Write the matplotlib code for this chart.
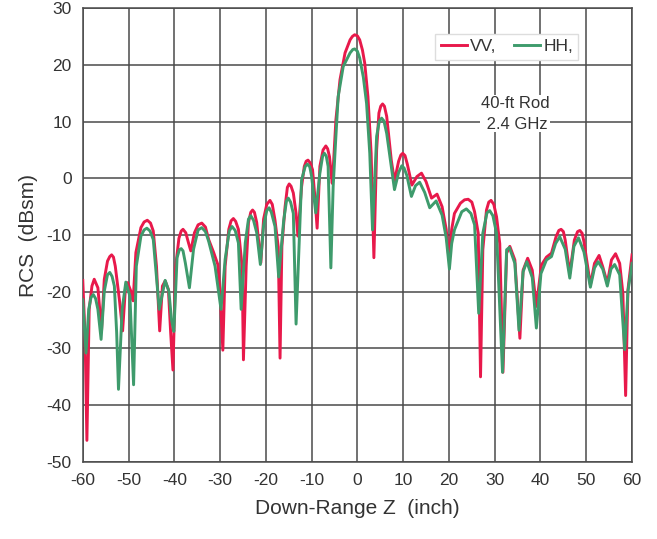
import matplotlib
matplotlib.use("Agg")
import matplotlib.pyplot as plt

plt.rcParams['font.family'] = ['Liberation Sans', 'DejaVu Sans']
plt.rcParams['axes.unicode_minus'] = False

# VV polarisation (Down-Range Z in inch, RCS in dBsm)
vv_z = [-60.0, -59.5, -59.1, -58.6, -58.0, -57.5, -56.7, -55.9, -55.3, -54.6,
        -54.1, -53.7, -53.3, -52.9, -52.0, -51.3, -50.7, -50.2, -49.5, -49.0,
        -48.4, -47.3, -46.6, -45.9, -45.2, -44.6, -43.9, -43.2, -42.6, -42.0,
        -41.3, -40.8, -40.3, -39.7, -39.0, -38.5, -38.1, -37.5, -36.9, -36.4,
        -35.6, -34.8, -34.0, -33.2, -32.5, -31.4, -30.5, -30.0, -29.4, -28.9,
        -28.1, -27.6, -27.1, -26.6, -26.0, -25.2, -24.9, -24.3, -23.8, -23.3,
        -22.9, -22.5, -22.0, -21.1, -20.5, -19.8, -19.1, -18.6, -18.0, -17.3,
        -16.9, -16.5, -15.8, -15.3, -14.9, -14.5, -14.0, -13.4, -13.0, -12.2,
        -11.6, -11.2, -10.8, -10.3, -9.8, -9.3, -8.8, -8.2, -7.5, -6.9,
        -6.5, -6.1, -5.5, -5.3, -4.7, -3.8, -2.7, -1.6, -1.1, -0.6,
        0.0, 0.5, 1.1, 1.6, 2.3, 3.0, 3.6, 4.2, 4.7, 5.1,
        5.5, 5.9, 6.4, 7.4, 8.1, 9.0, 9.5, 9.9, 10.4, 10.9,
        11.9, 13.0, 14.0, 15.0, 16.2, 17.4, 18.5, 19.4, 20.0, 20.6,
        21.2, 22.5, 23.4, 24.2, 25.0, 25.6, 26.4, 26.9, 27.4, 28.2,
        28.7, 29.2, 29.8, 30.4, 31.1, 31.8, 32.6, 33.3, 34.4, 35.5,
        36.2, 37.2, 38.2, 39.1, 40.2, 41.3, 42.4, 43.4, 44.0, 44.5,
        45.0, 45.4, 46.4, 47.4, 48.1, 48.6, 49.1, 49.5, 50.9, 51.8,
        52.8, 53.6, 54.6, 55.5, 56.4, 57.3, 58.0, 58.6, 59.1, 60.0]
vv_rcs = [-18.0, -28.0, -46.2, -23.1, -19.0, -17.8, -19.3, -26.9, -17.8, -14.6,
          -13.8, -13.5, -13.9, -15.5, -21.4, -26.9, -19.6, -18.4, -19.9, -21.6,
          -13.1, -8.7, -7.7, -7.4, -7.9, -9.3, -15.5, -26.9, -19.0, -18.1,
          -19.6, -27.2, -33.8, -15.5, -10.6, -9.3, -9.0, -9.6, -11.4, -12.8,
          -9.6, -8.2, -7.9, -8.6, -10.8, -13.1, -15.2, -20.2, -30.3, -15.5,
          -9.0, -7.5, -7.1, -7.6, -9.0, -15.5, -32.0, -15.5, -7.8, -6.0,
          -5.6, -6.0, -7.8, -14.9, -7.2, -4.6, -3.9, -4.6, -7.4, -12.1,
          -31.7, -12.0, -5.0, -1.6, -1.0, -1.4, -2.6, -6.2, -10.2, -1.5,
          2.1, 3.0, 3.2, 2.7, 1.5, -3.2, -8.8, 2.1, 5.0, 5.7,
          5.2, 3.8, -0.9, 1.5, 10.3, 17.4, 22.1, 24.4, 25.0, 25.3,
          25.1, 24.4, 22.6, 20.3, 14.4, 4.4, -14.0, 5.0, 11.5, 12.7,
          13.1, 12.7, 10.9, 3.2, -0.5, 3.0, 4.1, 4.4, 4.0, 2.5,
          -1.2, 0.3, 0.9, -0.6, -3.5, -2.8, -5.0, -9.0, -14.3, -9.0,
          -6.2, -4.4, -3.8, -3.7, -4.2, -5.9, -9.7, -35.0, -12.6, -5.6,
          -4.2, -3.9, -4.6, -6.8, -11.5, -34.2, -13.2, -12.0, -14.4, -28.2,
          -16.2, -14.1, -16.2, -22.6, -15.3, -13.9, -13.2, -10.3, -9.2, -9.0,
          -9.4, -10.9, -16.8, -10.9, -9.4, -9.2, -9.7, -11.2, -18.8, -15.0,
          -13.6, -15.6, -18.5, -14.4, -13.3, -15.0, -20.3, -38.3, -19.7, -13.5]

# HH polarisation
hh_z = [-60.0, -59.3, -58.7, -58.2, -57.7, -57.2, -56.7, -56.0, -55.3, -54.6,
        -54.1, -53.6, -53.1, -52.6, -52.2, -51.4, -50.6, -49.7, -48.9, -48.3,
        -47.3, -46.6, -46.0, -45.3, -44.6, -43.3, -42.0, -41.2, -40.6, -40.1,
        -39.4, -38.9, -38.5, -38.1, -37.6, -36.7, -35.8, -34.8, -34.0, -33.2,
        -32.5, -31.1, -29.8, -28.9, -28.0, -27.4, -26.7, -26.0, -25.4, -24.5,
        -23.8, -23.3, -22.7, -22.0, -21.2, -20.5, -19.8, -19.3, -18.8, -18.0,
        -17.2, -16.1, -15.5, -15.1, -14.6, -14.0, -13.4, -12.2, -11.4, -10.9,
        -10.4, -10.0, -9.1, -8.2, -7.6, -7.2, -6.8, -6.4, -5.8, -5.3,
        -4.7, -4.2, -3.1, -1.6, -1.0, -0.6, 0.0, 0.5, 1.3, 2.0,
        2.7, 3.3, 4.2, 4.8, 5.3, 5.8, 6.4, 8.1, 9.0, 9.7,
        10.2, 10.8, 11.8, 12.7, 13.6, 14.7, 15.8, 17.2, 18.5, 19.4,
        20.1, 20.6, 21.2, 22.8, 23.8, 24.8, 25.6, 26.5, 27.4, 28.3,
        28.9, 29.6, 30.4, 31.7, 32.6, 33.2, 34.4, 35.3, 36.2, 37.0,
        38.2, 39.1, 40.1, 41.3, 42.4, 43.3, 44.2, 45.4, 46.4, 47.3,
        48.3, 49.5, 50.9, 51.8, 52.6, 53.6, 54.6, 55.4, 56.2, 57.3,
        58.4, 59.1, 60.0]
hh_rcs = [-21.4, -30.8, -23.1, -21.0, -20.5, -21.2, -23.1, -28.4, -19.9, -17.0,
          -16.6, -17.3, -19.0, -27.2, -37.2, -23.1, -18.3, -20.8, -36.4, -15.5,
          -10.2, -9.1, -8.8, -9.3, -10.8, -23.1, -18.0, -19.9, -25.0, -27.0,
          -14.0, -12.6, -12.4, -12.8, -14.9, -19.3, -12.5, -9.1, -8.7, -9.4,
          -11.1, -15.5, -23.1, -14.3, -9.3, -8.5, -9.2, -11.4, -23.1, -11.4,
          -7.2, -6.6, -7.4, -9.6, -15.2, -8.4, -5.7, -5.2, -6.0, -8.5,
          -17.4, -7.4, -4.0, -3.5, -4.2, -6.2, -25.7, -0.3, 2.1, 2.5,
          2.0, 0.3, -6.1, 0.9, 3.9, 4.4, 3.9, 2.1, -15.8, -1.5,
          7.4, 14.4, 19.7, 22.1, 22.7, 22.8, 22.4, 21.2, 17.8, 13.2,
          4.4, -9.1, 7.4, 10.1, 10.6, 10.1, 7.9, -2.0, 1.0, 2.2,
          1.8, 0.5, -3.2, -1.3, -0.7, -2.5, -5.2, -4.0, -6.5, -10.5,
          -16.0, -11.5, -9.1, -5.9, -5.4, -6.2, -8.2, -23.8, -9.7, -6.1,
          -5.7, -6.6, -9.7, -34.2, -12.6, -12.2, -15.0, -26.8, -16.5, -14.7,
          -17.5, -26.4, -16.8, -14.4, -13.8, -11.5, -10.3, -12.5, -17.6, -12.0,
          -10.5, -13.0, -19.2, -15.8, -14.7, -16.0, -19.0, -16.0, -15.2, -17.0,
          -30.2, -20.0, -15.0]

x_ticks = list(range(-60, 61, 10))
y_ticks = list(range(-50, 31, 10))

fig = plt.figure(figsize=(6.57, 5.39), dpi=100)
ax = fig.add_axes([0.126, 0.143, 0.836, 0.842])

ax.plot(vv_z, vv_rcs, color='#E8194B', lw=2.1, label='VV,', zorder=3,
        solid_joinstyle='round')
ax.plot(hh_z, hh_rcs, color='#3E9B6C', lw=2.1, label='HH,', zorder=4,
        solid_joinstyle='round')

ax.set_xlim(-60, 60)
ax.set_ylim(-50, 30)
ax.set_xticks(x_ticks)
ax.set_yticks(y_ticks)
ax.grid(True, color='#4a4a4a', lw=1.1)
ax.set_axisbelow(True)
for s in ax.spines.values():
    s.set_color('#4a4a4a')
    s.set_linewidth(1.1)
ax.tick_params(length=0, pad=8, labelsize=12.5, labelcolor='#333333')

ax.set_xlabel('Down-Range Z  (inch)', fontsize=15, color='#333333', labelpad=8)
ax.set_ylabel('RCS  (dBsm)', fontsize=15, color='#333333', labelpad=6)

leg = ax.legend(loc='upper right', bbox_to_anchor=(0.918, 0.962), ncol=2,
                fontsize=12.5, handlelength=1.5, handletextpad=0.2,
                columnspacing=1.0, borderpad=0.3, fancybox=False,
                framealpha=1.0, edgecolor='#dddddd')
for t in leg.get_texts():
    t.set_color('#333333')

ax.text(34.4, 11.4, '40-ft Rod\n 2.4 GHz', ha='center', va='center',
        fontsize=12, color='#333333', linespacing=1.5,
        bbox=dict(facecolor='white', edgecolor='none', pad=0.5), zorder=5)

fig.savefig('out.png', dpi=100, facecolor='white')
